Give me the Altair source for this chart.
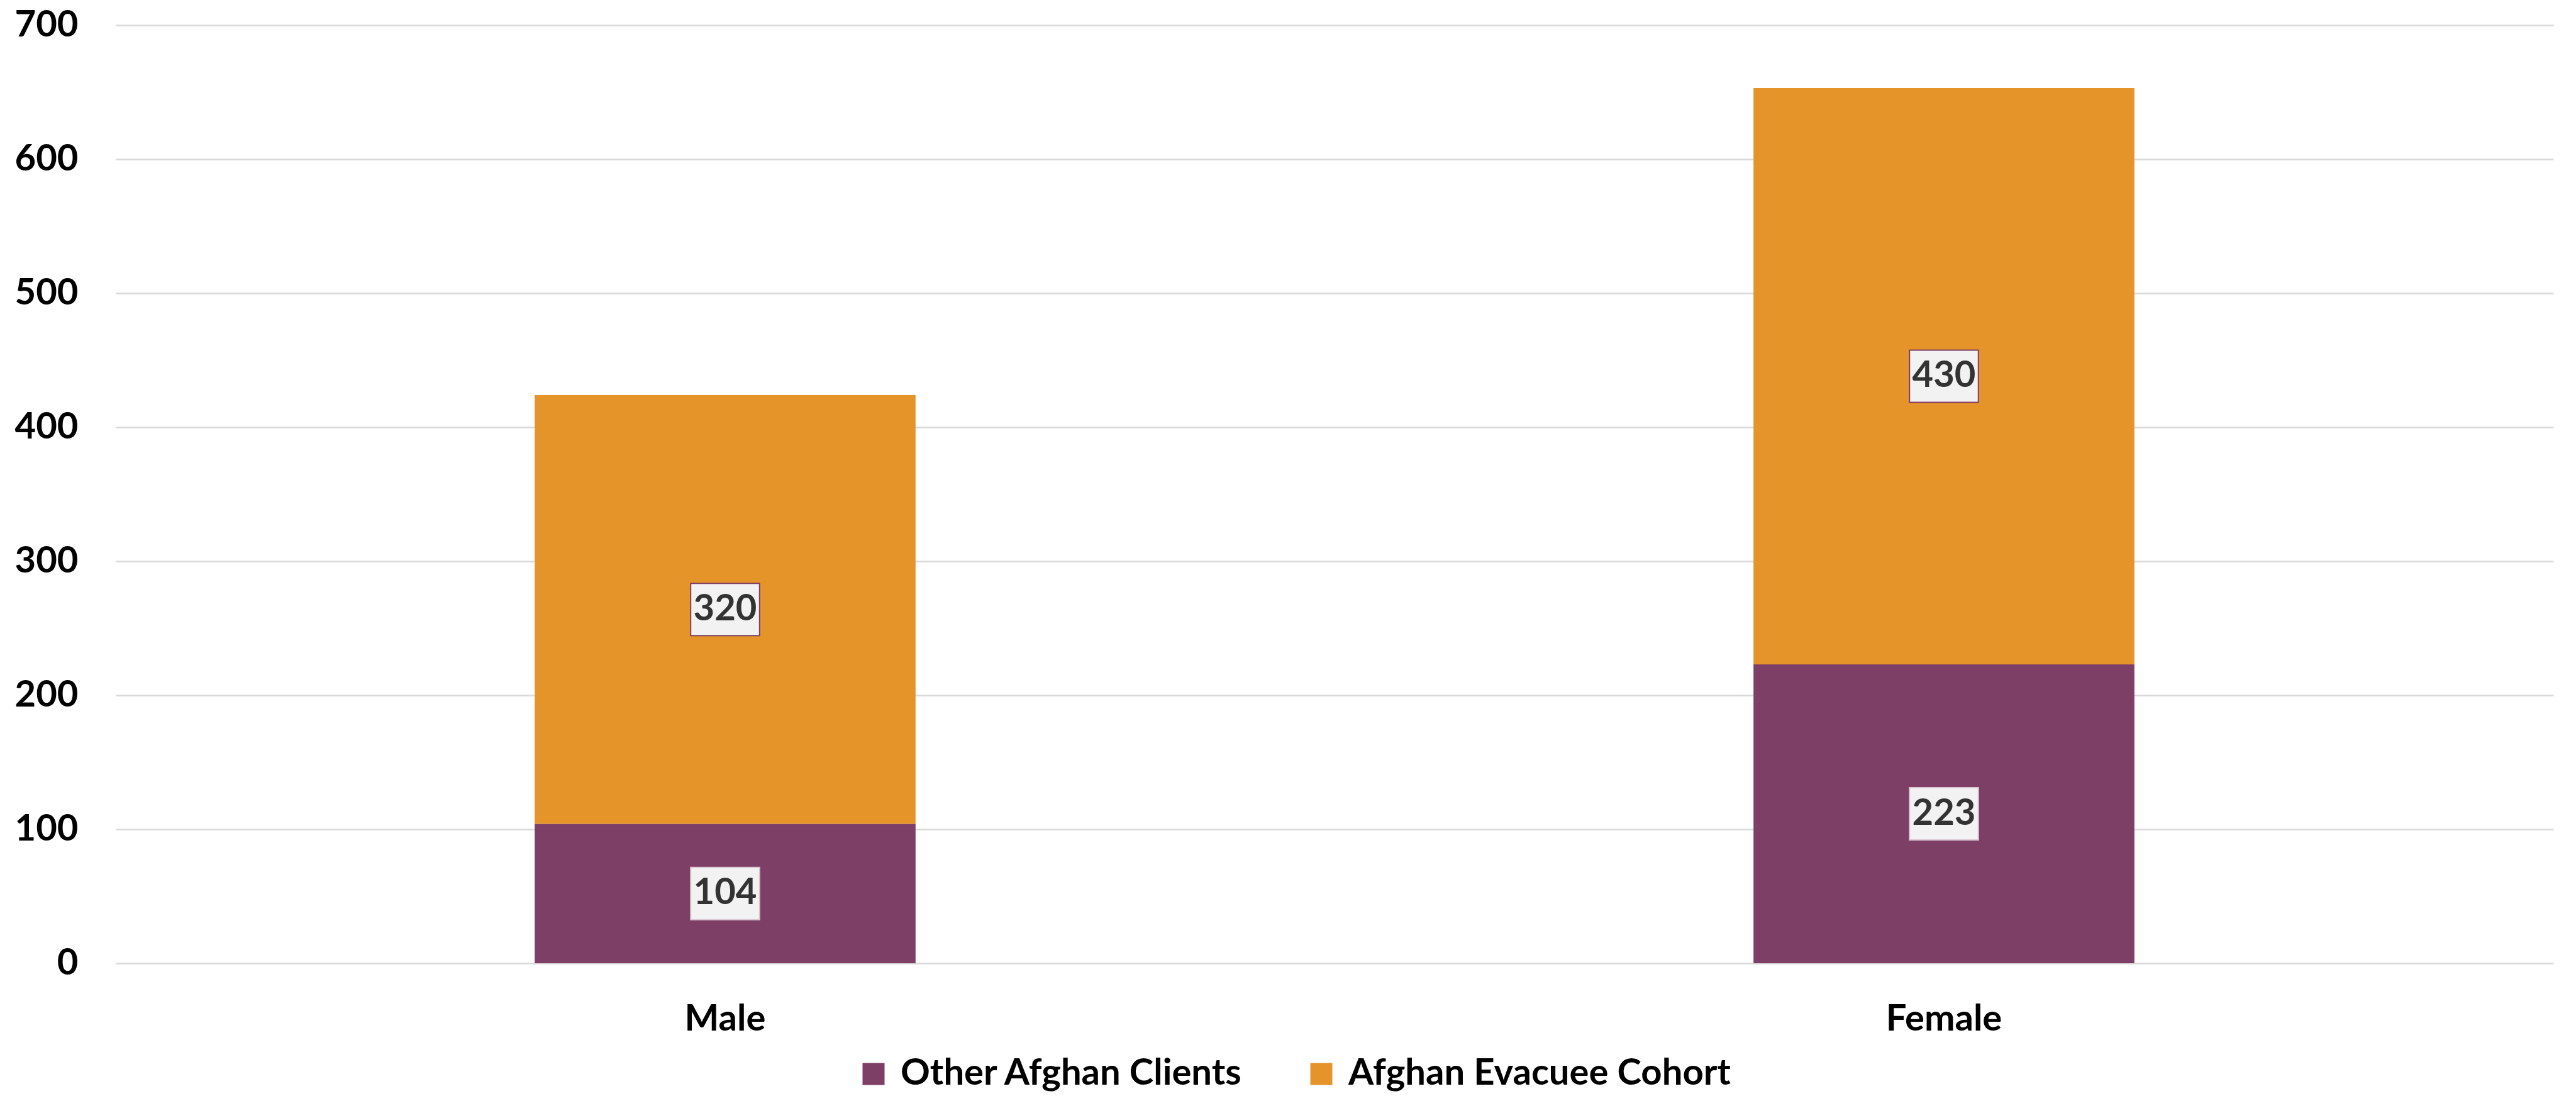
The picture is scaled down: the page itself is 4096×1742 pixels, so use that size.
import altair as alt
import pandas as pd

categories = ["Male", "Female"]
series = ["Other Afghan Clients", "Afghan Evacuee Cohort"]
other_values = [104, 223]
evacuee_values = [320, 430]
y_ticks = [0, 100, 200, 300, 400, 500, 600, 700]

colors = ["#7E3F66", "#E5942A"]
box_strokes = ["#D9C7D2", "#7E3F66"]

rows = []
for i, cat in enumerate(categories):
    base = 0
    for j, (name, vals) in enumerate(zip(series, [other_values, evacuee_values])):
        v = vals[i]
        rows.append({"gender": cat, "series": name, "value": v, "order": j, "mid": base + v / 2})
        base += v
df = pd.DataFrame(rows)

FONT = "Lato"
FS = 58

x_enc = alt.X("gender:N", sort=categories, title=None,
              scale=alt.Scale(paddingInner=0, paddingOuter=0),
              axis=alt.Axis(labelFont=FONT, labelFontWeight="bold", labelFontSize=FS,
                            labelColor="#000000", labelPadding=60, ticks=False, tickSize=0,
                            domain=False, grid=False, labelAngle=0, labelLimit=1000))
y_scale = alt.Scale(domain=[0, 700], nice=False)

bars = alt.Chart(df).mark_bar(width=alt.RelativeBandSize(0.3125)).encode(
    x=x_enc,
    y=alt.Y("value:Q", stack="zero", scale=y_scale, title=None,
            axis=alt.Axis(values=y_ticks, labelFont=FONT, labelFontWeight="bold", labelFontSize=FS,
                          labelColor="#000000", labelPadding=60, ticks=False, tickSize=0,
                          domain=False, grid=True, gridColor="#D9D9D9", gridWidth=2.5,
                          labelLimit=1000)),
    color=alt.Color("series:N", scale=alt.Scale(domain=series, range=colors),
                    legend=alt.Legend(title=None, orient="none", direction="horizontal",
                                      legendX=1176, legendY=1638, symbolType="square",
                                      symbolSize=1225, symbolStrokeWidth=0,
                                      labelFont=FONT, labelFontWeight="bold", labelFontSize=FS,
                                      labelColor="#000000", labelOffset=14, columnPadding=95,
                                      padding=0, labelLimit=2000)),
    order=alt.Order("order:Q", sort="ascending"),
)

boxes = alt.Chart(df).mark_point(
    shape="M-1.32,-1L1.32,-1L1.32,1L-1.32,1Z", size=6889, filled=True,
    fill="#F2F2F2", strokeWidth=2, opacity=1
).encode(
    x=alt.X("gender:N", sort=categories),
    y=alt.Y("mid:Q", scale=y_scale),
    stroke=alt.Stroke("series:N", scale=alt.Scale(domain=series, range=box_strokes), legend=None),
)

labels = alt.Chart(df).mark_text(
    font=FONT, fontWeight="bold", fontSize=FS, color="#333333", baseline="middle", align="center"
).encode(
    x=alt.X("gender:N", sort=categories),
    y=alt.Y("mid:Q", scale=y_scale),
    text=alt.Text("value:Q"),
)

chart = alt.layer(bars, boxes, labels).resolve_scale(stroke="independent").properties(
    width=3876, height=1491,
    autosize=alt.AutoSizeParams(type="none"),
    padding={"left": 184, "top": 40, "right": 36, "bottom": 211},
    background="#FFFFFF",
).configure_view(stroke=None)

chart.save("out.html", embed_options={"renderer": "svg", "actions": False})
